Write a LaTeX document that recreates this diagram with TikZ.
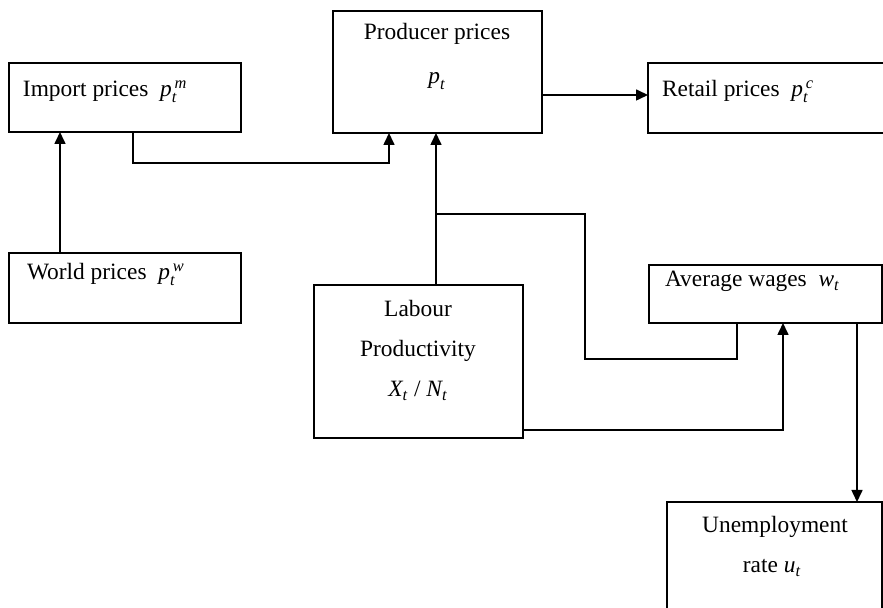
\documentclass[tikz,border=0pt]{standalone}
\usepackage{amsmath}
\usepackage{fontspec}
\setmainfont{Liberation Serif}
\usetikzlibrary{arrows.meta}
\newcommand{\vi}[1]{\textit{#1}}
\begin{document}
\begin{tikzpicture}[x=0.5pt,y=-0.5pt,
  box/.style={draw=black,line width=0.85pt,inner sep=0pt,outer sep=0pt,anchor=north west},
  lbl/.style={inner sep=0pt,outer sep=0pt,font=\fontsize{11.7}{14}\selectfont},
  conn/.style={draw=black,line width=0.8pt},
  arr/.style={conn,-{Triangle[length=6pt,width=5.5pt]}}]
\clip (0,0) rectangle (883,608);
\useasboundingbox (0,0) rectangle (883,608);
% boxes
\node[box,minimum width=116pt,minimum height=34.5pt] (imp) at (9,63) {};
\node[box,minimum width=104.5pt,minimum height=61pt] (prod) at (333,11) {};
\node[box,minimum width=126pt,minimum height=35pt] (ret) at (648,63) {};
\node[box,minimum width=116pt,minimum height=35pt] (wld) at (9,253) {};
\node[box,minimum width=104.5pt,minimum height=76.5pt] (lab) at (314,285) {};
\node[box,minimum width=116.5pt,minimum height=29pt] (wag) at (649,265) {};
\node[box,minimum width=107.5pt,minimum height=69pt] (une) at (667,502) {};
% labels
\node[lbl,anchor=base west] (timp) at (23,97) {Import prices\ \ $\vi{p}_{\vi{t}}^{\,\vi{m}}$};
\node[lbl,anchor=base] (tprod1) at (437,40) {Producer prices};
\node[lbl,anchor=base] (tprod2) at (437,84) {$\vi{p}_{\vi{t}}$};
\node[lbl,anchor=base west] (tret) at (662,97) {Retail prices\ \ $\vi{p}_{\vi{t}}^{\,\vi{c}}$};
\node[lbl,anchor=base west] (twld) at (27,280) {World prices\ \ $\vi{p}_{\vi{t}}^{\,\vi{w}}$};
\node[lbl,anchor=base] (tlab1) at (418,317) {Labour};
\node[lbl,anchor=base] (tlab2) at (418,357) {Productivity};
\node[lbl,anchor=base] (tlab3) at (418,397) {$\vi{X}_{\vi{t}}$ / $\vi{N}_{\vi{t}}$};
\node[lbl,anchor=base west] (twag) at (665,287) {Average wages\ \ $\vi{w}_{\vi{t}}$};
\node[lbl,anchor=base] (tune1) at (775,532) {Unemployment};
\node[lbl,anchor=base] (tune2) at (772,573) {rate $\vi{u}_{\vi{t}}$};
% helper coordinates
\coordinate (a1) at (133,163);
\coordinate (a2) at (389,163);
\coordinate (b1) at (60,0);
\coordinate (c1) at (436,214);
\coordinate (d1) at (585,214);
\coordinate (d2) at (585,359);
\coordinate (d3) at (737,359);
\coordinate (e1) at (783,430);
\coordinate (f1) at (857,0);
\coordinate (g1) at (0,95);
% connectors
\draw[arr] (imp.south -| a1) -- (a1) -- (a2) -- (prod.south -| a2);
\draw[arr] (wld.north -| b1) -- (imp.south -| b1);
\draw[arr] (prod.east |- g1) -- (ret.west |- g1);
\draw[arr] (lab.north -| c1) -- (prod.south -| c1);
\draw[conn] (wag.south -| d3) -- (d3) -- (d2) -- (d1) -- (c1);
\draw[arr] (lab.east |- e1) -- (e1) -- (wag.south -| e1);
\draw[arr] (wag.south -| f1) -- (une.north -| f1);
\end{tikzpicture}
\end{document}
